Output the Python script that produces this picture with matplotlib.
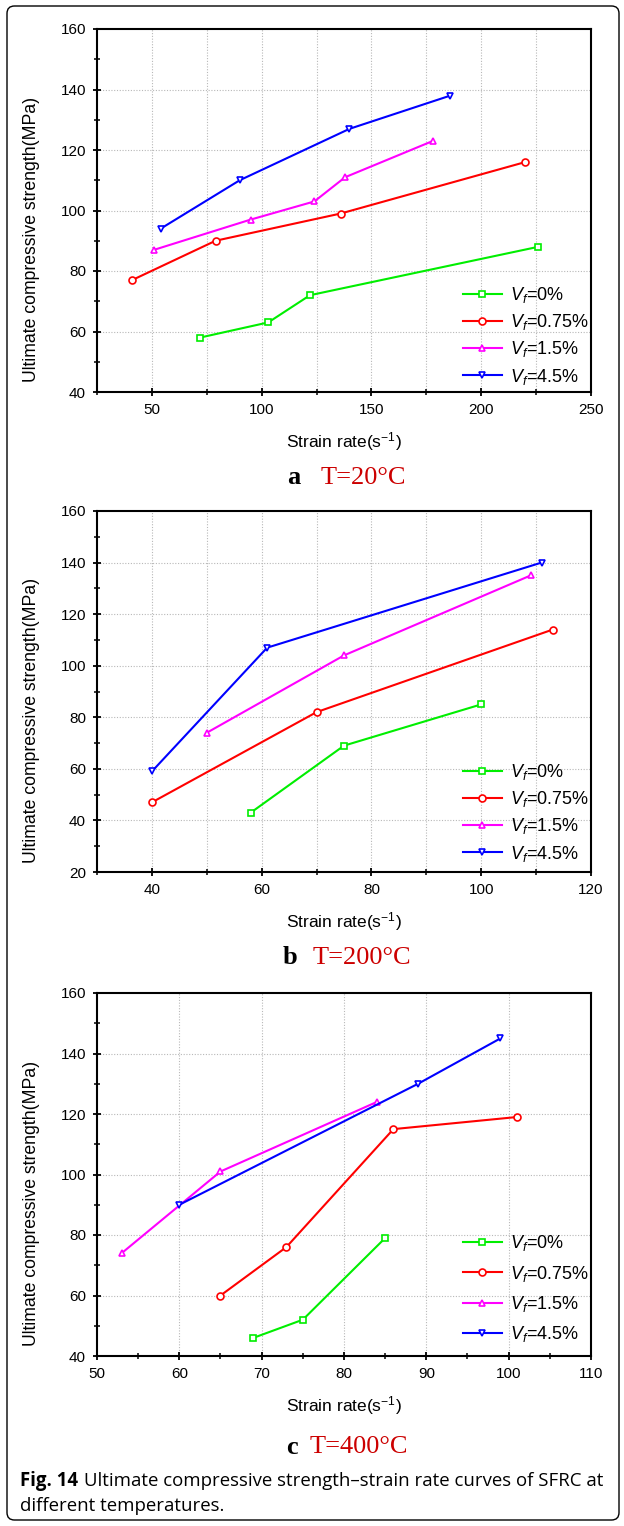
import matplotlib
matplotlib.use("Agg")
import matplotlib.pyplot as plt
from matplotlib.patches import FancyBboxPatch
from matplotlib.ticker import MultipleLocator

plt.rcParams['font.family'] = ['Liberation Sans', 'DejaVu Sans']
plt.rcParams['mathtext.fontset'] = 'custom'
plt.rcParams['mathtext.rm'] = 'Liberation Sans'
plt.rcParams['mathtext.it'] = 'Liberation Sans:italic'

labels = ['$V_f$=0%', '$V_f$=0.75%', '$V_f$=1.5%', '$V_f$=4.5%']
colors = ['#00ee00', '#ff0000', '#ff00ff', '#0000ff']
markers = ['s', 'o', '^', 'v']

# T = 20 C
a_x = [[72, 103, 122, 226],
       [41, 79, 136, 220],
       [51, 95, 124, 138, 178],
       [54, 90, 140, 186]]
a_y = [[58, 63, 72, 88],
       [77, 90, 99, 116],
       [87, 97, 103, 111, 123],
       [94, 110, 127, 138]]

# T = 200 C
b_x = [[58, 75, 100],
       [40, 70, 113],
       [50, 75, 109],
       [40, 61, 111]]
b_y = [[43, 69, 85],
       [47, 82, 114],
       [74, 104, 135],
       [59, 107, 140]]

# T = 400 C
c_x = [[69, 75, 85],
       [65, 73, 86, 101],
       [53, 65, 84],
       [60, 89, 99]]
c_y = [[46, 52, 79],
       [60, 76, 115, 119],
       [74, 101, 124],
       [90, 130, 145]]

W, H = 624, 1526
fig = plt.figure(figsize=(W / 100, H / 100), dpi=100)

box = FancyBboxPatch((7 / W, 6 / H), 612 / W, 1514 / H,
                     boxstyle="round,pad=0,rounding_size=0.012",
                     transform=fig.transFigure, fill=False, ec='black', lw=1.0,
                     mutation_aspect=W / H)
fig.patches.append(box)


def panel(top, bottom, xs, ys, xlim, ylim, xmaj, xmin, xgrid, ymaj, leg_y, lsp):
    ax = fig.add_axes([97 / W, (H - bottom) / H, 494 / W, (bottom - top) / H])
    for i in range(4):
        ax.plot(xs[i], ys[i], color=colors[i], marker=markers[i], lw=1.5,
                ms=5, mfc='white', mew=1.2, label=labels[i])
    ax.set_xlim(*xlim)
    ax.set_ylim(*ylim)
    ax.xaxis.set_major_locator(MultipleLocator(xmaj))
    ax.xaxis.set_minor_locator(MultipleLocator(xmin))
    ax.yaxis.set_major_locator(MultipleLocator(ymaj))
    ax.yaxis.set_minor_locator(MultipleLocator(ymaj / 2))
    ax.tick_params(which='both', direction='inout')
    ax.tick_params(which='major', length=6, width=1.3, labelsize=11, pad=5)
    ax.tick_params(which='minor', length=4, width=1.1)
    x0, x1 = int(xlim[0]), int(xlim[1])
    for v in range(x0 + xgrid, x1, xgrid):
        ax.axvline(v, color='#b8b8b8', ls=(0, (1, 1.5)), lw=0.8, zorder=0)
    for v in range(int(ylim[0]) + ymaj, int(ylim[1]), ymaj):
        ax.axhline(v, color='#b8b8b8', ls=(0, (1, 1.5)), lw=0.8, zorder=0)
    for s in ax.spines.values():
        s.set_linewidth(1.5)
    ax.set_xlabel('Strain rate(s$^{-1}$)', fontsize=12.5, labelpad=9)
    ax.set_ylabel('Ultimate compressive strength(MPa)', fontsize=12.7)
    ax.yaxis.set_label_coords(-0.115, 0.42)
    ax.legend(loc='lower right', frameon=False, fontsize=13, handlelength=2.15,
              handletextpad=0.45, labelspacing=lsp,
              bbox_to_anchor=(1.028, leg_y))
    return ax


panel(29, 392, a_x, a_y, (25, 250), (40, 160), 50, 25, 25, 20, -0.03, 0.4)
panel(511, 872, b_x, b_y, (30, 120), (20, 160), 20, 10, 10, 20, -0.022, 0.4)
panel(993, 1356, c_x, c_y, (50, 110), (40, 160), 10, 5, 10, 20, -0.013, 0.58)

serif = ['Liberation Serif', 'DejaVu Serif']
for lt, xr, xt, yy, txt in [('a', 300, 321, 478, 'T=20°C'),
                            ('b', 297, 313, 958, 'T=200°C'),
                            ('c', 298, 310, 1447, 'T=400°C')]:
    fig.text(xr / W, 1 - yy / H, lt, family=serif, fontsize=19,
             fontweight='bold', ha='right', va='center')
    fig.text(xt / W, 1 - yy / H, txt, family=serif, fontsize=19,
             color='#cc0000', ha='left', va='center')

cap = ['Open Sans', 'DejaVu Sans']
fig.text(20 / W, 1 - 1481 / H, 'Fig. 14', family=cap,
         fontsize=13.4, fontweight='bold', ha='left', va='center')
fig.text(84 / W, 1 - 1481 / H,
         'Ultimate compressive strength\u2013strain rate curves of SFRC at',
         family=cap, fontsize=13.4, ha='left', va='center')
fig.text(20 / W, 1 - 1506 / H, 'different temperatures.',
         family=cap, fontsize=13.4, ha='left', va='center')

plt.savefig('out.png', dpi=100)
plt.close()
